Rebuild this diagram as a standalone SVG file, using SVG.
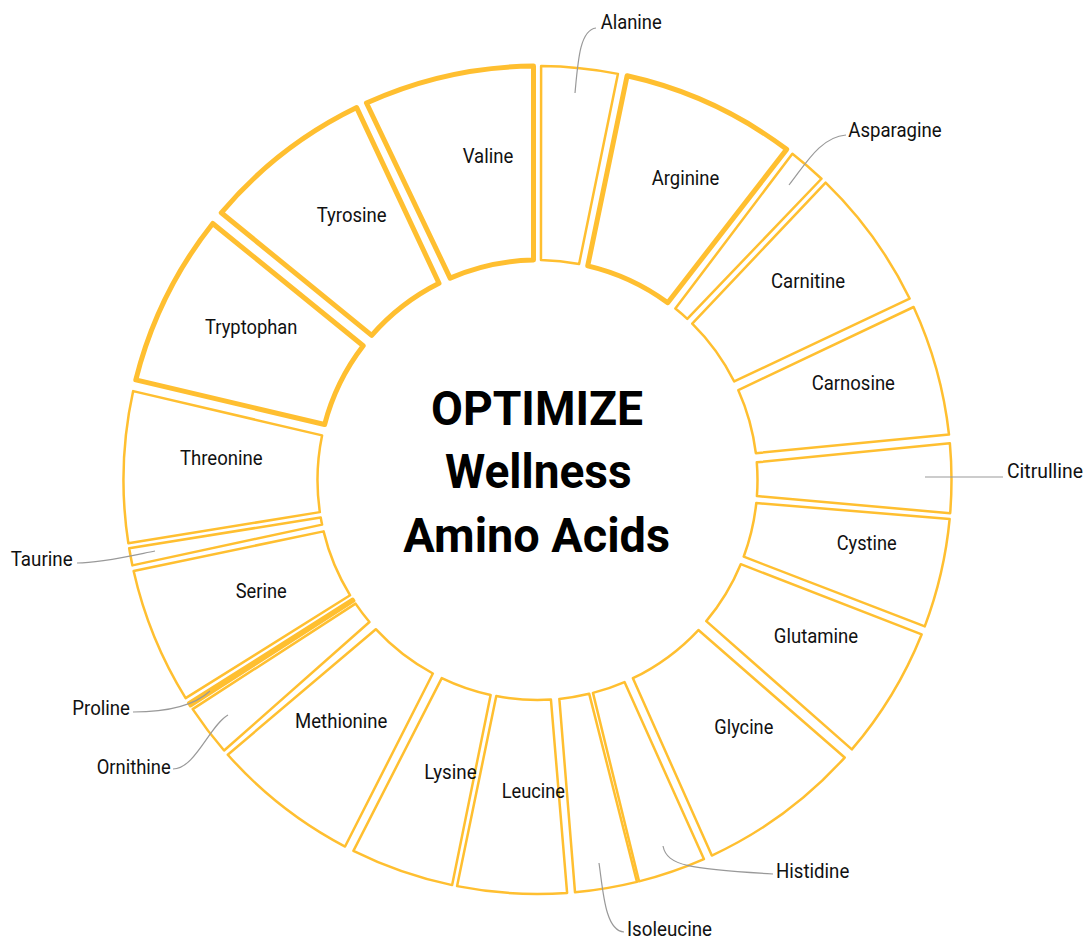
<svg xmlns="http://www.w3.org/2000/svg" width="1086" height="940" viewBox="0 0 1086 940">
<style>
.seg{fill:#fff;stroke:#FFBF30;stroke-width:2.5;stroke-linejoin:round}
.thick{stroke-width:5}
.mid{stroke-width:3.5}
.lbl{font-family:Roboto,"Noto Sans",sans-serif;font-size:20px;fill:#111;text-anchor:middle}
.out{font-family:Roboto,"Noto Sans",sans-serif;font-size:20px;fill:#111;text-anchor:start}
.lead{fill:none;stroke:#999;stroke-width:1.2}
.title{font-family:Roboto,"Noto Sans",sans-serif;font-size:49px;font-weight:700;fill:#000;text-anchor:middle}
</style>
<rect width="1086" height="940" fill="#fff"/>
<g id="segments">
<g id="alanine"><path class="seg" d="M541.11,66.02 A414,414 0 0 1 617.91,73.88 L579.10,263.97 A220,220 0 0 0 540.96,260.03 Z"/></g>
<g id="arginine"><path class="seg thick" d="M627.11,75.81 A414,414 0 0 1 786.65,149.36 L667.74,302.70 A220,220 0 0 0 587.74,265.81 Z"/><text class="lbl" x="685.5" y="185" textLength="67.6" lengthAdjust="spacingAndGlyphs">Arginine</text></g>
<g id="asparagine"><path class="seg" d="M792.38,153.76 A414,414 0 0 1 821.47,178.74 L687.28,318.84 A220,220 0 0 0 675.35,308.55 Z"/></g>
<g id="carnitine"><path class="seg" d="M825.61,182.69 A414,414 0 0 1 909.60,298.51 L734.21,381.49 A220,220 0 0 0 692.25,323.62 Z"/><text class="lbl" x="808" y="288" textLength="74" lengthAdjust="spacingAndGlyphs">Carnitine</text></g>
<g id="carnosine"><path class="seg" d="M913.62,307.00 A414,414 0 0 1 949.00,434.57 L755.86,453.19 A220,220 0 0 0 738.32,390.17 Z"/><text class="lbl" x="853.3" y="390" textLength="83.3" lengthAdjust="spacingAndGlyphs">Carnosine</text></g>
<g id="citrulline"><path class="seg" d="M949.86,443.20 A414,414 0 0 1 950.17,513.20 L756.91,496.11 A220,220 0 0 0 756.79,462.36 Z"/></g>
<g id="cystine"><path class="seg" d="M949.66,518.96 A414,414 0 0 1 924.77,626.34 L743.70,556.69 A220,220 0 0 0 756.29,503.00 Z"/><text class="lbl" x="866.7" y="550" textLength="60" lengthAdjust="spacingAndGlyphs">Cystine</text></g>
<g id="glutamine"><path class="seg" d="M921.63,634.42 A414,414 0 0 1 851.84,749.42 L706.28,621.12 A220,220 0 0 0 740.75,564.19 Z"/><text class="lbl" x="816" y="642.7" textLength="84.3" lengthAdjust="spacingAndGlyphs">Glutamine</text></g>
<g id="glycine"><path class="seg" d="M844.68,757.56 A414,414 0 0 1 711.81,855.51 L632.91,678.24 A220,220 0 0 0 698.40,630.04 Z"/><text class="lbl" x="743.8" y="734" textLength="59" lengthAdjust="spacingAndGlyphs">Glycine</text></g>
<g id="histidine"><path class="seg" d="M703.91,859.08 A414,414 0 0 1 639.06,881.35 L592.96,692.90 A220,220 0 0 0 624.52,682.06 Z"/></g>
<g id="isoleucine"><path class="seg" d="M636.96,881.88 A414,414 0 0 1 575.02,892.29 L559.35,698.91 A220,220 0 0 0 589.23,693.83 Z"/></g>
<g id="leucine"><path class="seg" d="M567.10,892.94 A414,414 0 0 1 457.09,886.12 L496.28,696.10 A220,220 0 0 0 550.93,699.59 Z"/><text class="lbl" x="533.3" y="798.3" textLength="63.3" lengthAdjust="spacingAndGlyphs">Leucine</text></g>
<g id="lysine"><path class="seg" d="M452.13,885.10 A414,414 0 0 1 353.42,850.82 L441.75,678.07 A220,220 0 0 0 490.63,694.95 Z"/><text class="lbl" x="450.5" y="779.3" textLength="52.4" lengthAdjust="spacingAndGlyphs">Lysine</text></g>
<g id="methionine"><path class="seg" d="M345.06,846.55 A414,414 0 0 1 227.78,754.71 L375.82,629.20 A220,220 0 0 0 432.86,673.52 Z"/><text class="lbl" x="341.2" y="728.3" textLength="92.3" lengthAdjust="spacingAndGlyphs">Methionine</text></g>
<g id="ornithine"><path class="seg" d="M224.10,750.52 A414,414 0 0 1 192.67,709.10 L355.54,603.66 A220,220 0 0 0 369.46,622.00 Z"/></g>
<g id="proline"><path class="seg mid" d="M190.49,705.78 A414,414 0 0 1 188.73,703.09 L352.65,599.28 A220,220 0 0 0 353.62,600.78 Z"/></g>
<g id="serine"><path class="seg" d="M185.65,698.16 A414,414 0 0 1 133.63,571.02 L323.58,531.36 A220,220 0 0 0 350.12,595.28 Z"/><text class="lbl" x="261.2" y="597.7" textLength="51" lengthAdjust="spacingAndGlyphs">Serine</text></g>
<g id="taurine"><path class="seg" d="M132.40,565.37 A414,414 0 0 1 129.18,548.33 L320.71,517.45 A220,220 0 0 0 322.07,524.61 Z"/></g>
<g id="threonine"><path class="seg" d="M128.37,543.34 A414,414 0 0 1 133.16,391.10 L322.07,435.39 A220,220 0 0 0 319.86,512.14 Z"/><text class="lbl" x="221.3" y="465" textLength="82.7" lengthAdjust="spacingAndGlyphs">Threonine</text></g>
<g id="tryptophan"><path class="seg thick" d="M135.80,379.85 A414,414 0 0 1 212.75,223.45 L363.20,345.77 A220,220 0 0 0 324.60,424.54 Z"/><text class="lbl" x="251.2" y="334.3" textLength="92.3" lengthAdjust="spacingAndGlyphs">Tryptophan</text></g>
<g id="tyrosine"><path class="seg thick" d="M221.29,212.78 A414,414 0 0 1 356.66,107.58 L438.99,283.29 A220,220 0 0 0 371.67,335.42 Z"/><text class="lbl" x="351.7" y="221.7" textLength="70" lengthAdjust="spacingAndGlyphs">Tyrosine</text></g>
<g id="valine"><path class="seg thick" d="M366.48,102.98 A414,414 0 0 1 533.5,66.02 L533.5,260.04 A220,220 0 0 0 450.13,278.09 Z"/><text class="lbl" x="488" y="163" textLength="50.6" lengthAdjust="spacingAndGlyphs">Valine</text></g>
</g>
<g id="connectors">
<path class="lead" d="M575,93 C578,60 580,30 596,28"/>
<path class="lead" d="M789,185 C805,165 820,137 846,135"/>
<path class="lead" d="M925,477 L1003,477"/>
<path class="lead" d="M663,846 C667,866 690,869 773,874"/>
<path class="lead" d="M599,863 C603,890 605,931 624,932"/>
<path class="lead" d="M155,551 C130,556 100,563 77,563"/>
<path class="lead" d="M210,691 C195,705 170,712 133,712"/>
<path class="lead" d="M228,715 C210,725 195,769 173,769"/>
</g>
<g id="callout-labels">
<text class="out" x="600.7" y="29" textLength="61" lengthAdjust="spacingAndGlyphs">Alanine</text>
<text class="out" x="848.3" y="136.7" textLength="93.4" lengthAdjust="spacingAndGlyphs">Asparagine</text>
<text class="out" x="1007" y="478" textLength="76" lengthAdjust="spacingAndGlyphs">Citrulline</text>
<text class="out" x="776" y="878.3" textLength="73.3" lengthAdjust="spacingAndGlyphs">Histidine</text>
<text class="out" x="627" y="936" textLength="85" lengthAdjust="spacingAndGlyphs">Isoleucine</text>
<text class="out" x="10.7" y="566" textLength="62" lengthAdjust="spacingAndGlyphs">Taurine</text>
<text class="out" x="72.3" y="715" textLength="57.7" lengthAdjust="spacingAndGlyphs">Proline</text>
<text class="out" x="96.7" y="774.3" textLength="74" lengthAdjust="spacingAndGlyphs">Ornithine</text>
</g>
<g id="title">
<text class="title" x="537" y="425" textLength="212" lengthAdjust="spacingAndGlyphs">OPTIMIZE</text>
<text class="title" x="538.3" y="488.3" textLength="186.7" lengthAdjust="spacingAndGlyphs">Wellness</text>
<text class="title" x="536.7" y="551.7" textLength="266.7" lengthAdjust="spacingAndGlyphs">Amino Acids</text>
</g>
</svg>
